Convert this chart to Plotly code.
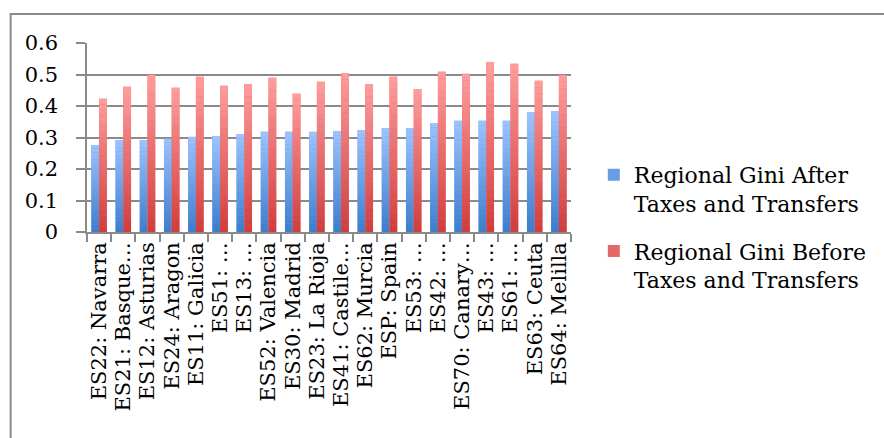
import plotly.graph_objects as go

# Regions (labels as they appear on the category axis)
regions = [
    "ES22: Navarra", "ES21: Basque…", "ES12: Asturias", "ES24: Aragon",
    "ES11: Galicia", "ES51: …", "ES13: …", "ES52: Valencia", "ES30: Madrid",
    "ES23: La Rioja", "ES41: Castile…", "ES62: Murcia", "ESP: Spain",
    "ES53: …", "ES42: …", "ES70: Canary…", "ES43: …", "ES61: …",
    "ES63: Ceuta", "ES64: Melilla",
]

gini_after = [
    0.276, 0.292, 0.292, 0.296, 0.302, 0.305, 0.311, 0.318, 0.318, 0.318,
    0.321, 0.324, 0.330, 0.330, 0.346, 0.353, 0.353, 0.353, 0.381, 0.384,
]

gini_before = [
    0.423, 0.461, 0.499, 0.458, 0.493, 0.464, 0.470, 0.490, 0.439, 0.477,
    0.505, 0.470, 0.493, 0.454, 0.509, 0.502, 0.540, 0.534, 0.480, 0.498,
]

series = [
    ("Regional Gini After<br>Taxes and Transfers", gini_after,
     (0x3B, 0x7C, 0xCC), (0x9E, 0xC4, 0xFF), "after"),
    ("Regional Gini Before<br>Taxes and Transfers", gini_before,
     (0xD0, 0x3C, 0x3C), (0xFF, 0x9E, 0x9E), "before"),
]

FONT = "DejaVu Serif"
N_STEPS = 24  # vertical colour bands used to shade each bar


def mix(c0, c1, t):
    return "rgb({},{},{})".format(*[round(a + (b - a) * t) for a, b in zip(c0, c1)])


fig = go.Figure()

for name, vals, dark, light, grp in series:
    # full-height bar: carries the legend entry
    fig.add_trace(go.Bar(
        x=regions, y=vals, name=name, offsetgroup=grp, legendgroup=grp,
        marker=dict(color=mix(dark, light, 0.45), line=dict(width=0)),
    ))
    # shaded bands, dark at the base fading to light at the top
    for k in range(N_STEPS):
        fig.add_trace(go.Bar(
            x=regions,
            y=[v / N_STEPS for v in vals],
            base=[v * k / N_STEPS for v in vals],
            offsetgroup=grp, legendgroup=grp, showlegend=False,
            hoverinfo="skip",
            marker=dict(color=mix(dark, light, (k + 0.5) / N_STEPS),
                        line=dict(width=0)),
        ))

L, R, T, B = 87, 309, 43, 206
W, H = 884, 438
pw, ph = W - L - R, H - T - B


def px_x(p):
    return (p - L) / pw


def px_y(p):
    return (H - B - p) / ph


fig.update_layout(
    width=W, height=H,
    margin=dict(l=L, r=R, t=T, b=B, pad=0),
    paper_bgcolor="white", plot_bgcolor="white",
    barmode="group", bargap=0.36, bargroupgap=0.0,
    font=dict(family=FONT, size=20, color="black"),
    showlegend=True,
    legend=dict(
        x=px_x(598), y=px_y(154), xanchor="left", yanchor="top",
        font=dict(family=FONT, size=22, color="black"),
        traceorder="grouped", tracegroupgap=16, valign="top",
        bgcolor="rgba(0,0,0,0)",
    ),
    xaxis=dict(
        type="category", tickangle=-90, tickson="boundaries",
        tickmode="linear", dtick=1,
        ticks="outside", ticklen=8, tickcolor="#8a8a8a", tickwidth=1.5,
        showline=True, linecolor="#8a8a8a", linewidth=1.5,
        showgrid=False, tickfont=dict(family=FONT, size=21),
    ),
    yaxis=dict(
        range=[0, 0.6], dtick=0.1, tickformat=".1~f",
        ticks="outside", ticklen=9, tickcolor="#8a8a8a", tickwidth=1.5,
        showline=True, linecolor="#8a8a8a", linewidth=1.5,
        showgrid=True, gridcolor="#8a8a8a", gridwidth=1.5,
        zeroline=False, tickfont=dict(family=FONT, size=21),
        ticklabelstandoff=14,
    ),
    shapes=[
        dict(type="rect", xref="paper", yref="paper",
             x0=px_x(10), x1=px_x(W + 20), y0=px_y(H + 20), y1=px_y(14),
             line=dict(color="#8a8a8a", width=2), fillcolor="rgba(0,0,0,0)",
             layer="below"),
    ],
)

fig.write_html("out.html")
